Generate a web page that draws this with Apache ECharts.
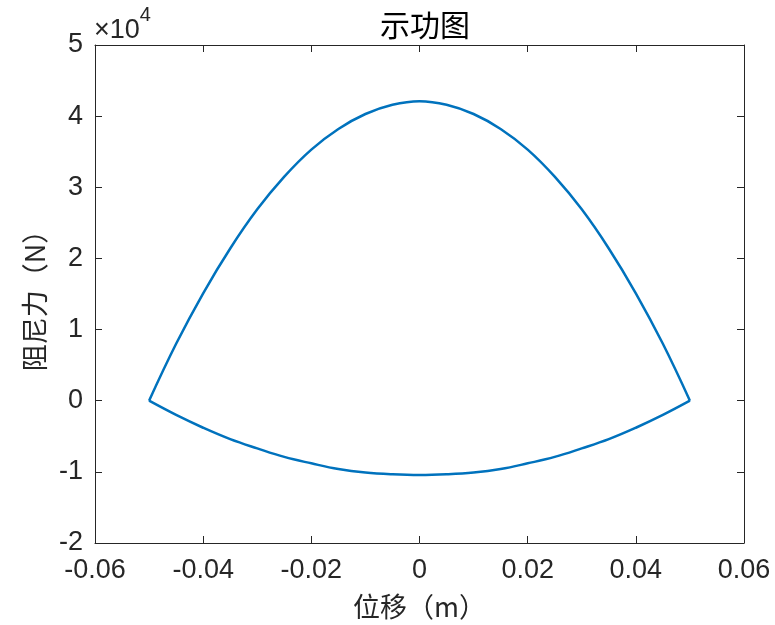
<!DOCTYPE html>
<html>
<head>
<meta charset="utf-8">
<script src="https://cdn.jsdelivr.net/npm/echarts@6/dist/echarts.min.js"></script>
<style>
  html, body { margin: 0; padding: 0; background: #fff; }
  #chart { width: 775px; height: 625px; }
</style>
</head>
<body>
<div id="chart"></div>
<script>
// 位移 (m)
const disp = [-0.05, -0.045, -0.04, -0.035, -0.03, -0.025, -0.02, -0.015, -0.01, -0.005, 0,
  0.005, 0.01, 0.015, 0.02, 0.025, 0.03, 0.035, 0.04, 0.045, 0.05]
// 阻尼力 (N) 上支 (拉伸)
const forceUp = [0, 8000, 15100, 21400, 26900, 31500, 35300, 38200, 40300, 41600, 42100,
  41600, 40300, 38200, 35300, 31500, 26900, 21400, 15100, 8000, 0]
// 阻尼力 (N) 下支 (压缩)
const forceDown = [0, -2000, -3800, -5400, -6700, -7900, -8800, -9600, -10100, -10350, -10450,
  -10350, -10100, -9600, -8800, -7900, -6700, -5400, -3800, -2000, 0]

const xTicks = [-0.06, -0.04, -0.02, 0, 0.02, 0.04, 0.06]
const yTicks = [-2, -1, 0, 1, 2, 3, 4, 5]

const chart = echarts.init(document.getElementById('chart'))

const labelFont = { color: '#262626', fontSize: 27, fontFamily: 'Liberation Sans, Arial, sans-serif' }
const lineColor = '#0072BD'

const boxAxis = {
  axisLine: { show: true, onZero: false, lineStyle: { color: '#262626', width: 1 } },
  axisTick: { show: true, inside: true, length: 7, lineStyle: { color: '#262626' } },
  splitLine: { show: false }
}

chart.setOption({
  backgroundColor: '#fff',
  animation: false,
  title: {
    text: '示功图',
    left: 420,
    top: 5,
    textAlign: 'center',
    textStyle: { fontSize: 30, fontWeight: 'normal', color: '#000', fontFamily: 'Noto Sans CJK SC' }
  },
  graphic: [{
    type: 'text',
    left: 94,
    top: 5,
    style: {
      text: '{a|×10}{b|4}',
      rich: {
        a: { fontSize: 27, fontFamily: 'Liberation Sans, Arial', fill: '#262626', verticalAlign: 'bottom', padding: [12, 0, 0, 0] },
        b: { fontSize: 20, fontFamily: 'Liberation Sans, Arial', fill: '#262626', verticalAlign: 'top', padding: [0, 0, 14, 0] }
      }
    }
  }],
  grid: { left: 95, right: 31, top: 45, bottom: 82, containLabel: false },
  xAxis: [{
    type: 'value',
    position: 'bottom',
    min: -0.06, max: 0.06, interval: 0.02,
    name: '位移（m）',
    nameLocation: 'middle',
    nameGap: 50,
    nameTextStyle: { fontSize: 27, color: '#262626', fontFamily: 'Noto Sans CJK SC' },
    axisLabel: Object.assign({ margin: 14, formatter: v => {
      const t = xTicks.find(k => Math.abs(k - v) < 1e-9)
      return t === 0 ? '0' : String(t)
    } }, labelFont),
    ...boxAxis
  }, {
    type: 'value',
    position: 'top',
    min: -0.06, max: 0.06, interval: 0.02,
    axisLabel: { show: false },
    ...boxAxis
  }],
  yAxis: [{
    type: 'value',
    position: 'left',
    min: -20000, max: 50000, interval: 10000,
    name: '阻尼力（N）',
    nameLocation: 'middle',
    nameGap: 47,
    nameRotate: 90,
    nameTextStyle: { fontSize: 27, color: '#262626', fontFamily: 'Noto Sans CJK SC' },
    axisLabel: Object.assign({ margin: 12, formatter: v => {
      const t = yTicks.find(k => Math.abs(k * 10000 - v) < 1e-6)
      return String(t)
    } }, labelFont),
    ...boxAxis
  }, {
    type: 'value',
    position: 'right',
    min: -20000, max: 50000, interval: 10000,
    axisLabel: { show: false },
    ...boxAxis
  }],
  series: [{
    name: '上支',
    type: 'line',
    data: disp.map((x, i) => [x, forceUp[i]]),
    smooth: 0.4,
    showSymbol: false,
    lineStyle: { color: lineColor, width: 2.5 },
    itemStyle: { color: lineColor }
  }, {
    name: '下支',
    type: 'line',
    data: disp.map((x, i) => [x, forceDown[i]]),
    smooth: 0.4,
    showSymbol: false,
    lineStyle: { color: lineColor, width: 2.5 },
    itemStyle: { color: lineColor }
  }]
})
</script>
</body>
</html>
